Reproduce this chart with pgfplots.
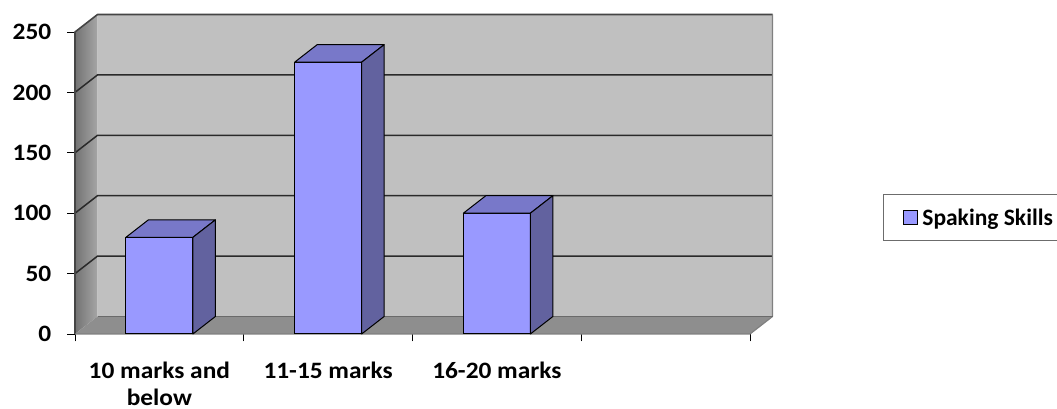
\documentclass[border=0pt]{standalone}
\usepackage{pgfplots}
\pgfplotsset{compat=1.18}
\usepackage{pgfplotstable}
\usepackage{fontspec}
\setmainfont{Carlito}[FakeStretch=1.08]
\newfontfamily\legendfamily{Carlito}

\definecolor{barfront}{HTML}{9999FF}
\definecolor{bartop}{HTML}{7878C9}
\definecolor{barside}{HTML}{62629F}
\definecolor{wallback}{HTML}{C0C0C0}
\definecolor{floorgray}{HTML}{8E8E8E}
\definecolor{edgegray}{HTML}{454545}
\definecolor{gridgray}{HTML}{2A2A2A}

% an empty plot mark: the scatter code below draws the bar's top and side
\pgfdeclareplotmark{blank}{}

\newcommand\lblfont{\fontsize{23.5}{27}\selectfont\bfseries}
\newcommand\legfont{\legendfamily\fontsize{23.5}{27}\selectfont\bfseries}

% depth of the 3-D walls and bars
\def\dx{22.5pt}
\def\dy{17.5pt}

\pgfplotstableread{
pos value
0 80
1 225
2 100
}\speaking

\begin{document}
\begin{tikzpicture}
\path[use as bounding box] (0,0) rectangle (1057pt,409pt);
\begin{axis}[
  at={(75pt,75pt)}, anchor=south west,
  x=168.75pt, y=1.208pt,
  xmin=-0.5, xmax=3.5, ymin=0, ymax=250,
  enlargelimits=false, clip=false,
  axis line style={draw=none},
  tick pos=left, tick align=outside,
  major tick length=7.5pt,
  tick style={black, line width=0.8pt},
  xtick={-0.5,0.5,1.5,2.5,3.5},
  xticklabels={{10 marks and\\below},{11-15 marks},{16-20 marks},{}},
  x tick label as interval,
  ytick={0,50,...,250},
  /pgf/number format/assume math mode=true,
  ticklabel style={font=\lblfont, inner sep=0pt},
  xticklabel style={align=center, anchor=north, yshift=-20pt},
  yticklabel style={anchor=east, xshift=-16pt},
  legend style={at={(1.197,0.4636)}, anchor=north west,
    draw=gray!85!black, line width=1.2pt, fill=white,
    font=\legfont, inner xsep=19pt, inner ysep=12pt,
    /tikz/every odd column/.append style={column sep=2pt}},
  legend cell align=left,
]
% back wall
\fill[wallback] ([shift={(\dx,\dy)}]axis cs:-0.5,0) rectangle ([shift={(\dx,\dy)}]axis cs:3.5,250);
% left side wall
\shade[left color=gray!90!black, right color=gray!70!white]
  (axis cs:-0.5,0) -- (axis cs:-0.5,250) -- ([shift={(\dx,\dy)}]axis cs:-0.5,250)
  -- ([shift={(\dx,\dy)}]axis cs:-0.5,0) -- cycle;
% floor
\fill[floorgray] (axis cs:-0.5,0) -- (axis cs:3.5,0) -- ([shift={(\dx,\dy)}]axis cs:3.5,0)
  -- ([shift={(\dx,\dy)}]axis cs:-0.5,0) -- cycle;
% grid lines across the side wall and the back wall
\pgfplotsinvokeforeach{50,100,150,200}{
  \draw[gridgray, line width=1.5pt] (axis cs:-0.5,#1) -- ([shift={(\dx,\dy)}]axis cs:-0.5,#1)
    -- ([shift={(\dx,\dy)}]axis cs:3.5,#1);
}
% wall and floor edges
\draw[edgegray, line width=1.6pt, line join=round] (axis cs:-0.5,0) -- (axis cs:-0.5,250)
  -- ([shift={(\dx,\dy)}]axis cs:-0.5,250) -- ([shift={(\dx,\dy)}]axis cs:3.5,250);
\draw[gray, line width=1.2pt, line join=round] ([shift={(\dx,\dy)}]axis cs:3.5,250)
  -- ([shift={(\dx,\dy)}]axis cs:3.5,0) -- (axis cs:3.5,0) -- (axis cs:-0.5,0);
\draw[edgegray!80, line width=1pt] ([shift={(\dx,\dy)}]axis cs:-0.5,0)
  -- ([shift={(\dx,\dy)}]axis cs:3.5,0);

% front faces of the bars
\addplot[ybar, bar width=67pt, fill=barfront, draw=black, line width=1pt,
  legend image code/.code={\draw[fill=barfront, draw=black, line width=1.8pt]
    (0pt,-7pt) rectangle (14pt,7pt);}]
  table[x=pos, y=value]{\speaking};
\addlegendentry{Spaking Skills}

% top and side faces of the bars
\addplot[forget plot, scatter, only marks, mark=blank,
  visualization depends on={\thisrow{value} \as \barval},
  scatter/@pre marker code/.code={
    \pgfmathsetlengthmacro\barh{\barval*1.208pt}
    \filldraw[fill=bartop, draw=black, line width=1pt, line join=round]
      (-33.5pt,0pt) -- ++(\dx,\dy) -- ++(67pt,0pt) -- (33.5pt,0pt) -- cycle;
    \filldraw[fill=barside, draw=black, line width=1pt, line join=round]
      (33.5pt,0pt) -- ++(\dx,\dy) -- ++(0pt,-\barh) -- (33.5pt,-\barh) -- cycle;
  },
  scatter/@post marker code/.code={}]
  table[x=pos, y=value]{\speaking};
\end{axis}
\end{tikzpicture}
\end{document}
